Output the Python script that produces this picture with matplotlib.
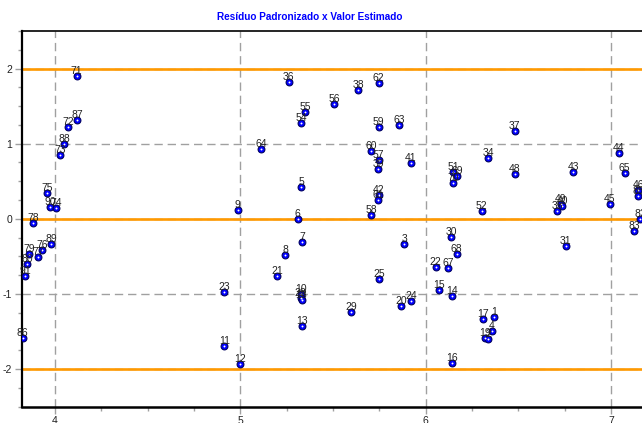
import matplotlib
matplotlib.use("Agg")
import matplotlib.pyplot as plt
from matplotlib.ticker import MultipleLocator

plt.rcParams["font.family"] = ["Liberation Sans", "DejaVu Sans"]
plt.rcParams["axes.unicode_minus"] = False

# estimated value (x), standardized residual (y), observation number
labels = ["71", "87", "72", "88", "73", "75", "90", "74", "78", "89",
          "76", "77", "79", "80", "91", "86",
          "36", "62", "38", "56", "55", "54", "59", "63", "64", "60",
          "57", "39", "41", "5", "42", "61", "9", "58", "6", "7",
          "3", "8", "21", "25", "23", "10", "28", "18", "29", "20",
          "24", "13", "11", "12",
          "37", "44", "34", "65", "48", "43", "51", "69", "70", "52",
          "45", "46", "85", "82", "83", "30", "31", "68", "35", "49",
          "40", "22", "67", "15", "14", "17", "1", "4", "19", "2", "16"]
estimated = [4.117, 4.119, 4.072, 4.049, 4.029, 3.957, 3.973, 4.005, 3.880, 3.978,
             3.930, 3.907, 3.861, 3.851, 3.838, 3.825,
             5.260, 5.747, 5.637, 5.506, 5.348, 5.328, 5.747, 5.858, 5.111, 5.707,
             5.747, 5.743, 5.921, 5.328, 5.748, 5.745, 4.985, 5.705, 5.310, 5.333,
             5.885, 5.242, 5.198, 5.748, 4.911, 5.328, 5.325, 5.330, 5.597, 5.869,
             5.921, 5.335, 4.913, 4.999,
             6.480, 7.042, 6.336, 7.073, 6.480, 6.796, 6.147, 6.169, 6.149, 6.302,
             6.992, 7.147, 7.147, 7.157, 7.123, 6.138, 6.755, 6.167, 6.708, 6.730,
             6.737, 6.054, 6.122, 6.072, 6.142, 6.311, 6.368, 6.357, 6.322, 6.338, 6.142]
residual = [1.898, 1.320, 1.228, 0.993, 0.851, 0.350, 0.164, 0.151, -0.053, -0.332,
            -0.417, -0.505, -0.470, -0.598, -0.754, -1.587,
            1.818, 1.804, 1.711, 1.525, 1.427, 1.281, 1.228, 1.254, 0.927, 0.904,
            0.785, 0.660, 0.745, 0.421, 0.319, 0.257, 0.124, 0.057, 0.000, -0.310,
            -0.337, -0.483, -0.767, -0.807, -0.971, -1.000, -1.060, -1.080, -1.237, -1.157,
            -1.090, -1.423, -1.693, -1.937,
            1.170, 0.878, 0.807, 0.607, 0.594, 0.621, 0.625, 0.572, 0.475, 0.106,
            0.204, 0.381, 0.306, 0.004, -0.160, -0.244, -0.364, -0.470, 0.106, 0.204,
            0.173, -0.647, -0.656, -0.944, -1.033, -1.334, -1.307, -1.498, -1.587, -1.605, -1.915]
limit_lines = [-2, 0, 2]

fig = plt.figure(figsize=(6.42, 4.23), dpi=100)
ax = fig.add_axes([22 / 642, 16.3 / 423, 1 - 22 / 642, (406.7 - 31) / 423])
ax.set_xlim(3.822, 7.167)
ax.set_ylim(-2.5, 2.5)

ax.xaxis.set_major_locator(MultipleLocator(1))
ax.xaxis.set_minor_locator(MultipleLocator(0.25))
ax.yaxis.set_major_locator(MultipleLocator(1))
ax.yaxis.set_minor_locator(MultipleLocator(0.25))
ax.grid(True, which="major", color="#a0a0a0", linestyle=(0, (6, 3.5)), linewidth=1.0)
ax.set_axisbelow(True)
for yv in limit_lines:
    ax.axhline(yv, color="#ff9900", linewidth=1.9, zorder=2)

ax.tick_params(which="major", direction="out", length=5, width=1, color="#a0a0a0",
               labelsize=7.5, pad=2, labelcolor="#222222")
ax.tick_params(which="minor", direction="out", length=3, width=1, color="#a0a0a0")
for side in ("left", "bottom", "top"):
    ax.spines[side].set_color("black")
ax.spines["left"].set_linewidth(1.6)
ax.spines["bottom"].set_linewidth(1.8)
ax.spines["top"].set_linewidth(1.2)
ax.spines["right"].set_visible(False)

ax.scatter(estimated, residual, s=24, marker="o", facecolor="#0000ff",
           edgecolor="#000060", linewidth=0.8, zorder=3, clip_on=True)
ax.scatter(estimated, residual, s=2, marker="o", color="white", linewidth=0,
           zorder=4)
for lab, xv, yv in zip(labels, estimated, residual):
    ax.annotate(lab, (xv, yv), xytext=(0, 0), textcoords="offset points",
                ha="center", va="bottom", fontsize=7.5, color="#222222",
                zorder=5, annotation_clip=True, clip_on=False)

fig.text(310 / 642, 1 - 17 / 423, "Resíduo Padronizado x Valor Estimado",
         ha="center", va="center", color="#0000ff", fontsize=7.2,
         fontweight="bold")

fig.savefig("out.png", dpi=100)
